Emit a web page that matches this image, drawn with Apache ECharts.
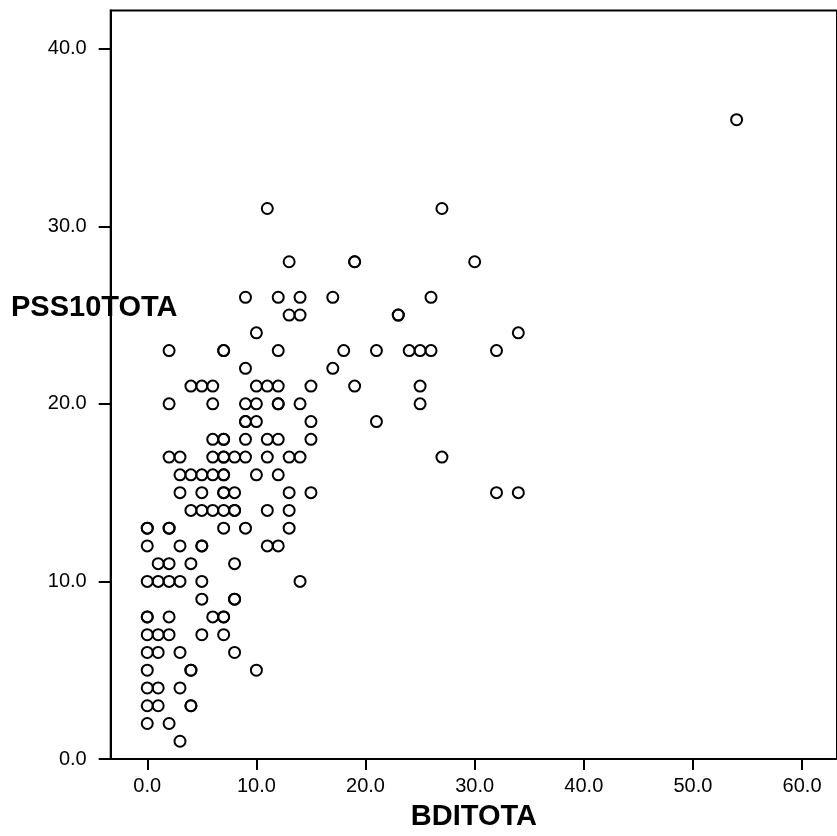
<!DOCTYPE html>
<html>
<head>
<meta charset="utf-8">
<title>PSS10TOTA vs BDITOTA</title>
<script src="https://cdn.jsdelivr.net/npm/echarts@6/dist/echarts.min.js"></script>
<style>
    html, body { margin: 0; padding: 0; background: #fff; }
    #main { width: 837px; height: 836px; }
</style>
</head>
<body>
<div id="main"></div>
<script>
// Data, one pair per case (rows go from top to bottom)
const bdiTotal = [
    54,
    11, 27,
    13, 19, 19, 30,
    9, 12, 14, 17, 26,
    13, 14, 23, 23,
    10, 34,
    2, 7, 7, 12, 18, 21, 24, 25, 26, 32,
    9, 17,
    4, 5, 6, 10, 11, 12, 15, 19, 25,
    2, 6, 9, 10, 12, 12, 14, 25,
    9, 9, 10, 15, 21,
    6, 7, 7, 9, 11, 12, 15,
    2, 3, 6, 7, 7, 8, 9, 11, 13, 14, 27,
    3, 4, 5, 6, 7, 7, 10, 12,
    3, 5, 7, 7, 8, 13, 15, 32, 34,
    4, 5, 6, 7, 8, 8, 11, 13,
    0, 0, 2, 2, 7, 9, 13,
    0, 3, 5, 5, 11, 12,
    1, 2, 4, 8,
    0, 1, 2, 3, 5, 14,
    5, 8, 8,
    0, 0, 2, 6, 7, 7,
    0, 1, 2, 5, 7,
    0, 1, 3, 8,
    0, 4, 4, 10,
    0, 1, 3,
    0, 1, 4, 4,
    0, 2,
    3
];
const pss10Total = [
    36,
    31, 31,
    28, 28, 28, 28,
    26, 26, 26, 26, 26,
    25, 25, 25, 25,
    24, 24,
    23, 23, 23, 23, 23, 23, 23, 23, 23, 23,
    22, 22,
    21, 21, 21, 21, 21, 21, 21, 21, 21,
    20, 20, 20, 20, 20, 20, 20, 20,
    19, 19, 19, 19, 19,
    18, 18, 18, 18, 18, 18, 18,
    17, 17, 17, 17, 17, 17, 17, 17, 17, 17, 17,
    16, 16, 16, 16, 16, 16, 16, 16,
    15, 15, 15, 15, 15, 15, 15, 15, 15,
    14, 14, 14, 14, 14, 14, 14, 14,
    13, 13, 13, 13, 13, 13, 13,
    12, 12, 12, 12, 12, 12,
    11, 11, 11, 11,
    10, 10, 10, 10, 10, 10,
    9, 9, 9,
    8, 8, 8, 8, 8, 8,
    7, 7, 7, 7, 7,
    6, 6, 6, 6,
    5, 5, 5, 5,
    4, 4, 4,
    3, 3, 3, 3,
    2, 2,
    1
];

// Tick labels on both axes
const xTicks = [0, 10, 20, 30, 40, 50, 60];
const yTicks = [0, 10, 20, 30, 40];

const fontFamily = "Arial, 'Liberation Sans', sans-serif";

const chartDom = document.getElementById('main');
const myChart = echarts.init(chartDom);

const points = bdiTotal.map((x, i) => [x, pss10Total[i]]);

const option = {
    backgroundColor: '#fff',
    animation: false,
    grid: {
        left: 110.7,
        top: 10.5,
        bottom: 73,
        right: -10,
        show: true,
        borderColor: '#000',
        borderWidth: 2
    },
    xAxis: {
        type: 'value',
        min: -3.35,
        max: 63.2,
        name: 'BDITOTA',
        nameLocation: 'middle',
        nameGap: 43,
        nameTextStyle: {
            color: '#000',
            fontFamily: fontFamily,
            fontWeight: 'bold',
            fontSize: 29
        },
        splitLine: { show: false },
        axisLine: { onZero: false, lineStyle: { color: '#000', width: 2 } },
        axisTick: {
            show: true,
            length: 11,
            customValues: xTicks,
            lineStyle: { color: '#000', width: 2 }
        },
        axisLabel: {
            customValues: xTicks,
            margin: 17,
            color: '#000',
            fontFamily: fontFamily,
            fontSize: 20,
            formatter: v => v.toFixed(1)
        }
    },
    yAxis: {
        type: 'value',
        min: 0,
        max: 42.15,
        splitLine: { show: false },
        axisLine: { show: true, onZero: false, lineStyle: { color: '#000', width: 2 } },
        axisTick: {
            show: true,
            length: 12,
            customValues: yTicks,
            lineStyle: { color: '#000', width: 2 }
        },
        axisLabel: {
            customValues: yTicks,
            margin: 24,
            color: '#000',
            fontFamily: fontFamily,
            fontSize: 20,
            formatter: v => v.toFixed(1)
        }
    },
    graphic: [
        {
            type: 'text',
            left: 11,
            top: 293,
            z: 100,
            style: {
                text: 'PSS10TOTA',
                fill: '#000',
                font: "bold 29px Arial, 'Liberation Sans', sans-serif"
            }
        }
    ],
    series: [
        {
            type: 'scatter',
            data: points,
            symbol: 'circle',
            symbolSize: 11,
            itemStyle: {
                color: 'transparent',
                borderColor: '#000',
                borderWidth: 2,
                opacity: 1
            }
        }
    ]
};

myChart.setOption(option);
</script>
</body>
</html>
